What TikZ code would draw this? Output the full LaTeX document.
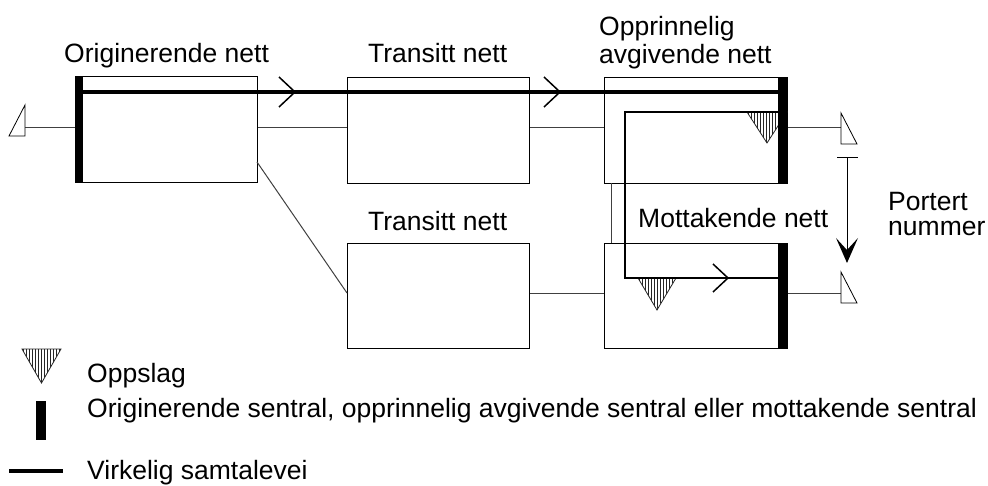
\documentclass[tikz,border=0pt]{standalone}
\usepackage{fontspec}
\setmainfont{Liberation Sans}
\usetikzlibrary{calc}
\begin{document}
\begin{tikzpicture}[x=1pt,y=-1pt,
  netbox/.style={draw=black,line width=1pt,fill=white,inner sep=0pt,minimum width=182pt,minimum height=106pt,anchor=north west},
  conn/.style={draw=black!75,line width=1pt},
  bar/.style={fill=black},
  path1/.style={draw=black,line width=3.2pt},
  path2/.style={draw=black,line width=2.2pt},
  chev/.style={draw=black,line width=1.5pt},
  hline/.style={draw=black!85,line width=0.7pt},
  tri/.style={draw=black!85,line width=0.8pt},
  term/.style={draw=black,line width=0.8pt,fill=white},
  lbl/.style={font=\fontsize{26.5}{30}\selectfont,inner sep=0pt}]
\useasboundingbox (0,0) rectangle (988,486);

% boxes
\node[netbox] (orig) at (75,76) {};
\node[netbox] (tr1) at (347,77) {};
\node[netbox,minimum width=183pt] (opp) at (604,77) {};
\node[netbox,minimum height=105pt] (tr2) at (347,243) {};
\node[netbox,minimum width=183pt,minimum height=105pt] (mot) at (604,243) {};

% labels
\node[lbl,anchor=base west] (lorig) at (64,63) {Originerende nett};
\node[lbl,anchor=base west] (ltr1) at (368,63) {Transitt nett};
\node[lbl,anchor=base west] (lopp1) at (599,36) {Opprinnelig};
\node[lbl,anchor=base west] (lopp2) at (599,64) {avgivende nett};
\node[lbl,anchor=base west] (ltr2) at (368,231) {Transitt nett};
\node[lbl,anchor=base west] (lmot) at (638,228) {Mottakende nett};
\node[lbl,anchor=base west] (lport1) at (888,211) {Portert};
\node[lbl,anchor=base west] (lport2) at (888,236) {nummer};

% terminals
\coordinate (tL) at (25,128);
\coordinate (tR1) at (841,128);
\coordinate (tR2) at (841,294);
\draw[conn] (tL) -- (orig.west |- tL);
\draw[term] (9,136) -- (25,136) -- (25,105) -- cycle;
\draw[conn] (orig.east |- tL) -- (tr1.west |- tL);
\draw[conn] (tr1.east |- tL) -- (opp.west |- tL);
\draw[conn] (opp.east |- tR1) -- (tR1);
\draw[term] (841,113) -- (841,144) -- (857,144) -- cycle;
\draw[conn] (mot.east |- tR2) -- (tR2);
\draw[term] (841,272) -- (841,303) -- (857,303) -- cycle;
\coordinate (dA) at (257,162);
\coordinate (dB) at (347,293);
\draw[conn] (dA) -- (dB);
\draw[conn] (tr2.east |- 0,294) -- (mot.west |- 0,294);
\draw[conn] (611,183) -- (611,243);

% hatched lookup triangles
\newcommand\hatchtri[4]{% left x, right x, top y, apex y
  \begin{scope}
    \clip (#1,#3) -- (#2,#3) -- ({(#1+#2)/2},#4) -- cycle;
    \foreach \k in {0,...,14} \draw[hline] ({#1+1.5+3*\k},#3) -- ({#1+1.5+3*\k},#4);
  \end{scope}
  \draw[tri] (#1,#3) -- (#2,#3) -- ({(#1+#2)/2},#4) -- cycle;}
\hatchtri{747}{787}{112}{143}
\hatchtri{638}{676}{278}{310}

% exchange bars
\fill[bar] (75,76) rectangle (83,183);
\fill[bar] (778,77) rectangle (787,183);
\fill[bar] (778,243) rectangle (787,348);

% real call path
\draw[path1] (83,92) -- (778,92);
\draw[chev] (279,77) -- (295,92) -- (279,107);
\draw[chev] (544,77) -- (560,92) -- (544,107);
\draw[path2] (778,112) -- (625,112) -- (625,278) -- (778,278);
\draw[chev] (713,264) -- (728,278) -- (713,292);

% ported number arrow
\coordinate (pTop) at (847,158);
\coordinate (pTip) at (847,263);
\draw[line width=1pt] (837,158) -- (858,158);
\draw[line width=1pt] (pTop) -- (847,250);
\fill (pTip) -- (836,238) -- (847,250) -- (858,238) -- cycle;

% legend
\hatchtri{22}{61}{349}{383}
\node[lbl,anchor=base west] (leg1) at (87,382) {Oppslag};
\fill[bar] (36,401) rectangle (46,440);
\node[lbl,anchor=base west] (leg2) at (87,417) {Originerende sentral, opprinnelig avgivende sentral eller mottakende sentral};
\draw[path1] (9,471) -- (63,471);
\node[lbl,anchor=base west] (leg3) at (87,479) {Virkelig samtalevei};
\end{tikzpicture}
\end{document}
